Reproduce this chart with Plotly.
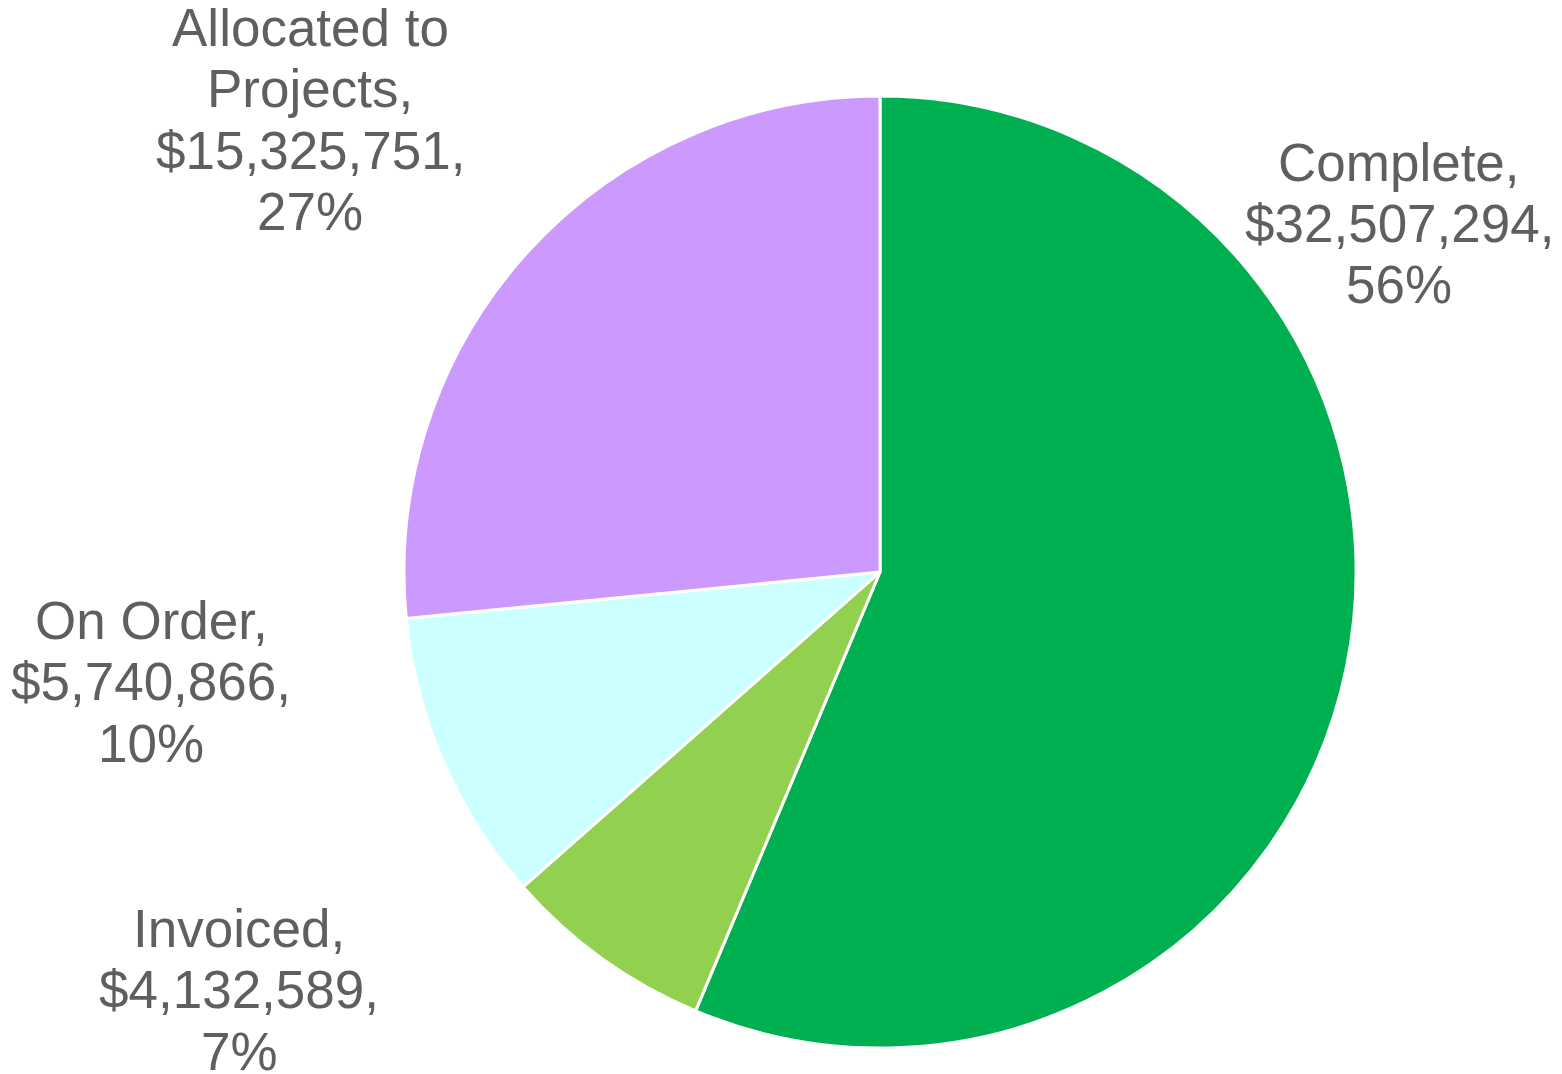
import plotly.graph_objects as go

# Data
categories = ["Complete", "Invoiced", "On Order", "Allocated to Projects"]
values = [32507294, 4132589, 5740866, 15325751]
colors = ["#00AF50", "#92D050", "#CCFFFF", "#CC99FF"]
# label name line breaks as shown in the chart
name_lines = [["Complete,"], ["Invoiced,"], ["On Order,"], ["Allocated to", "Projects,"]]

# Label placement (figure px)
label_x_px = [1391, 231, 143, 302]
label_y_px = [154, 920, 612, 19]
line_step_px = 61.5

W, H = 1562, 1074
cx, cy, r = 872, 564, 476

fig = go.Figure(go.Pie(
    labels=categories,
    values=values,
    sort=False,
    direction="clockwise",
    rotation=0,
    marker=dict(colors=colors, line=dict(color="white", width=3)),
    textinfo="none",
    hoverinfo="label+value+percent",
    showlegend=False,
    domain=dict(x=[(cx - r) / W, (cx + r) / W], y=[(H - cy - r) / H, (H - cy + r) / H]),
))

total = sum(values)
annotations = []
for i, cat in enumerate(categories):
    lines = name_lines[i] + ["${:,},".format(values[i]), "{:.0f}%".format(values[i] / total * 100)]
    for j, txt in enumerate(lines):
        ypx = label_y_px[i] + j * line_step_px
        annotations.append(dict(
            x=label_x_px[i] / W, y=1 - ypx / H, xref="paper", yref="paper",
            text=txt, showarrow=False, xanchor="center", yanchor="middle",
            font=dict(family="Liberation Sans, Arial, sans-serif", size=53, color="#5f5f5f"),
        ))

fig.update_layout(
    width=W, height=H,
    margin=dict(l=0, r=0, t=0, b=0),
    paper_bgcolor="white", plot_bgcolor="white",
    annotations=annotations,
)

fig.write_html("out.html")
